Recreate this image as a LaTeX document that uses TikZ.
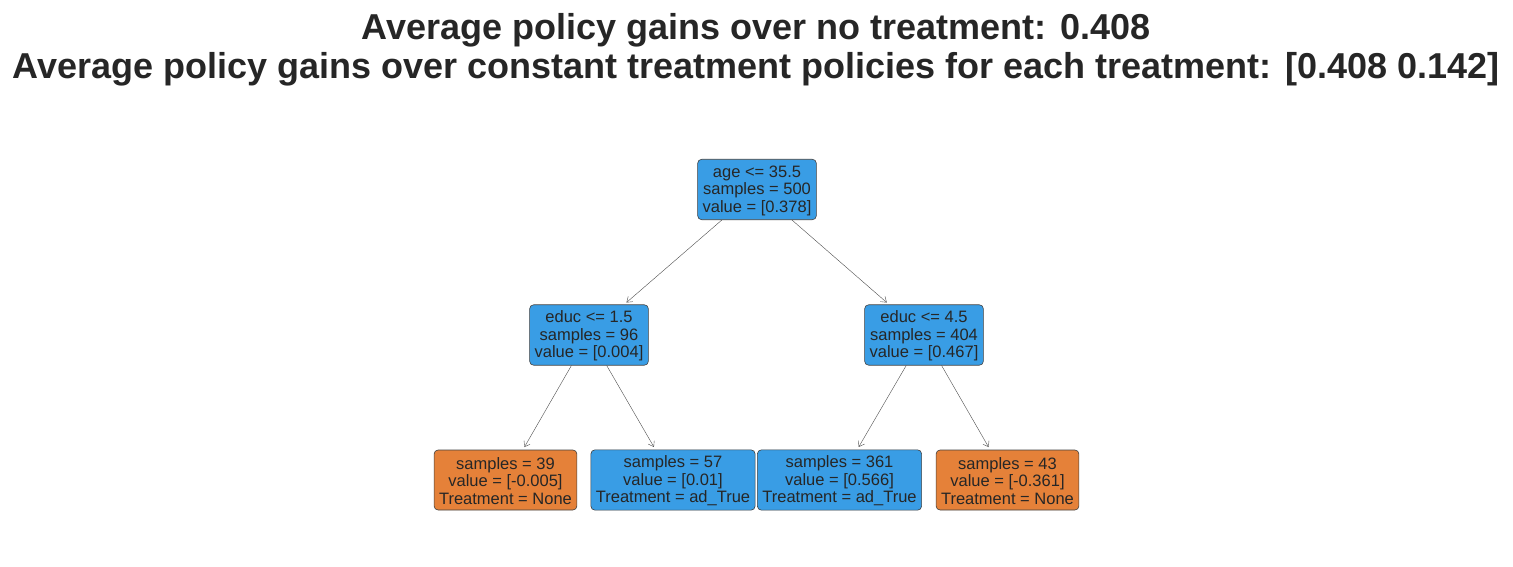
\documentclass[tikz,border=0pt]{standalone}
\usepackage{fontspec}
\setmainfont{Liberation Sans}
\usetikzlibrary{arrows.meta}
\definecolor{tblue}{HTML}{399DE5}
\definecolor{torange}{HTML}{E58139}
\definecolor{ttext}{HTML}{262626}
\begin{document}
\begin{tikzpicture}[x=1pt,y=-1pt,
  tnode/.style={draw=black!75, line width=0.6pt, rounded corners=4pt, align=center,
    font=\fontsize{16.5}{17.5}\selectfont, text=ttext, inner xsep=5pt, inner ysep=4pt,
    minimum height=60pt},
  bluebox/.style={tnode, fill=tblue},
  orangebox/.style={tnode, fill=torange},
  edge/.style={draw=black!70, line width=0.4pt, -{Straight Barb[length=5pt,width=7pt]}, shorten >=3pt},
  title/.style={font=\bfseries\fontsize{36}{40}\selectfont, text=ttext}
]
\useasboundingbox (0,0) rectangle (1513,567);
\node[title] (t1) at (756,30) {Average policy gains over no treatment: 0.408};
\node[title] (t2) at (756,69) {Average policy gains over constant treatment policies for each treatment: [0.408 0.142]};

\node[bluebox] (root) at (757,189.5) {\rule{0pt}{14pt}age <= 35.5\\samples = 500\\value = [0.378]};
\node[bluebox] (l) at (589,335) {\rule{0pt}{14pt}educ <= 1.5\\samples = 96\\value = [0.004]};
\node[bluebox] (r) at (924,335) {\rule{0pt}{14pt}educ <= 4.5\\samples = 404\\value = [0.467]};
\node[orangebox] (ll) at (505.5,480) {\rule{0pt}{14pt}samples = 39\\value = [-0.005]\\Treatment = None};
\node[bluebox] (lr) at (673,480) {\rule{0pt}{14pt}samples = 57\\value = [0.01]\\Treatment = ad\_True};
\node[bluebox] (rl) at (839.5,480) {\rule{0pt}{14pt}samples = 361\\value = [0.566]\\Treatment = ad\_True};
\node[orangebox] (rr) at (1007.5,480) {\rule{0pt}{14pt}samples = 43\\value = [-0.361]\\Treatment = None};

\draw[edge] (root) -- (l);
\draw[edge] (root) -- (r);
\draw[edge] (l) -- (ll);
\draw[edge] (l) -- (lr);
\draw[edge] (r) -- (rl);
\draw[edge] (r) -- (rr);
\end{tikzpicture}
\end{document}
